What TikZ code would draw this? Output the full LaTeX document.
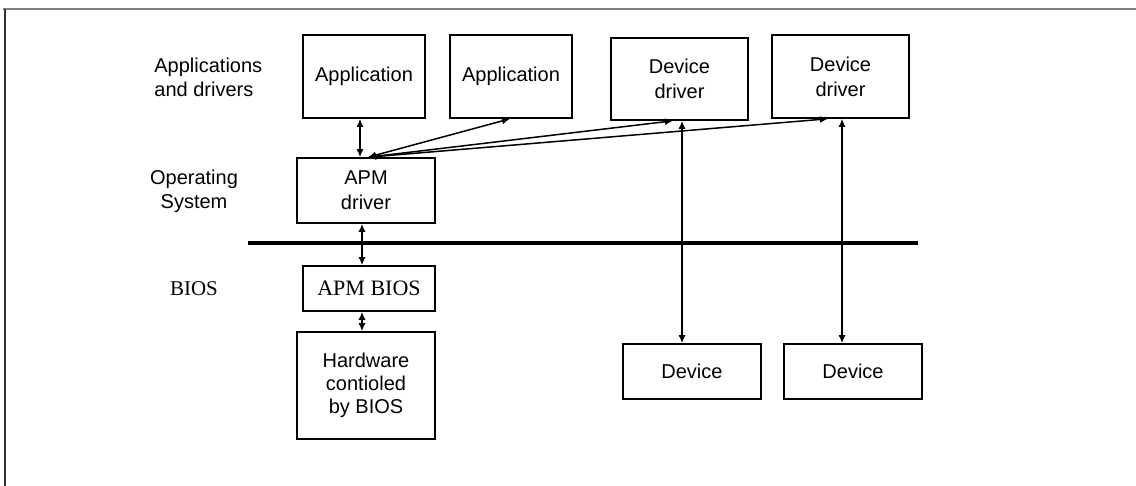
\documentclass[tikz,border=0pt]{standalone}
\usepackage{fontspec}
\setmainfont{Liberation Sans}
\newfontfamily\biosfont{Liberation Serif}
\usetikzlibrary{arrows.meta,positioning}

\begin{document}
\begin{tikzpicture}[x=0.5pt,y=-0.5pt,>={Latex[length=4pt,width=3.5pt]},
  box/.style={draw,line width=0.8pt,inner sep=0pt,align=center,
    font=\fontsize{10}{12.5}\selectfont},
  lbl/.style={inner sep=0pt,font=\fontsize{10}{12}\selectfont}]
\useasboundingbox (0,0) rectangle (1136,486);
\draw[gray,line width=1pt] (3,9)--(1136,9);
\draw[black!80,line width=1pt] (5,9)--(5,486);
% layer labels
\node[lbl,align=left,anchor=west] (lapps) at (154,77) {Applications\\and drivers};
\node[lbl,align=center] (los) at (194,191) {Operating\\System};
\node[lbl,font=\biosfont\fontsize{10.5}{12}\selectfont] (lbios) at (194,289) {BIOS};
% boxes
\node[box,minimum width=61pt,minimum height=41.5pt] (app1) at (364,76.5) {Application};
\node[box,minimum width=61pt,minimum height=41.5pt] (app2) at (511,76.5) {Application};
\node[box,minimum width=68.5pt,minimum height=41pt] (drv1) at (679.5,79) {Device\\driver};
\node[box,minimum width=68.5pt,minimum height=41.5pt] (drv2) at (840.5,76.5) {Device\\driver};
\node[box,minimum width=69pt,minimum height=32.5pt] (apmdrv) at (366,190.5) {APM\\driver};
\node[box,minimum width=66pt,minimum height=22.5pt,
  font=\biosfont\fontsize{11}{12}\selectfont] (apmbios) at (369,288.5) {APM BIOS};
\node[box,minimum width=69pt,minimum height=53.5pt,
  font=\fontsize{10}{11.5}\selectfont] (hw) at (366,385.5) {Hardware\\contioled\\by BIOS};
\node[box,minimum width=69pt,minimum height=27.5pt] (dev1) at (692,371.5) {Device};
\node[box,minimum width=69pt,minimum height=27.5pt] (dev2) at (853,371.5) {Device};
% bus line
\draw[line width=2.2pt] (248,243)--(918,243);
\begin{scope}[line width=0.75pt]
  \draw[<->] ([xshift=-2pt]app1.south)--([xshift=-3pt]apmdrv.north);
  \draw[<->] ([xshift=-2pt]apmdrv.south)--([xshift=-3.5pt]apmbios.north);
  \draw[<->] ([xshift=-3.5pt]apmbios.south)--([xshift=-2pt]hw.north);
  \draw[<->] ([xshift=1pt]apmdrv.north)--([xshift=-0.5pt]app2.south);
  \draw[<->] ([xshift=1pt]apmdrv.north)--([xshift=-3.25pt]drv1.south);
  \draw[<->] ([xshift=1pt]apmdrv.north)--([xshift=-6.25pt]drv2.south);
  \draw[<->] ([xshift=1.25pt]drv1.south)--([xshift=-5pt]dev1.north);
  \draw[<->] ([xshift=0.75pt]drv2.south)--([xshift=-5.5pt]dev2.north);
\end{scope}
\end{tikzpicture}
\end{document}
